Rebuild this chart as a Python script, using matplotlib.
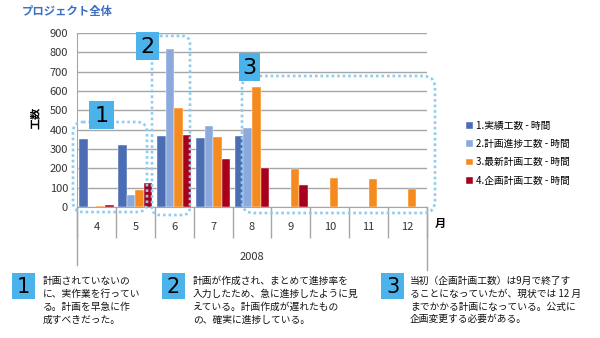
import numpy as np
import matplotlib.pyplot as plt
from matplotlib.patches import FancyBboxPatch, Rectangle

plt.rcParams['font.family'] = ['Noto Sans CJK JP', 'DejaVu Sans']

months = ['4', '5', '6', '7', '8', '9', '10', '11', '12']
actual = [350, 320, 365, 355, 365, 0, 0, 0, 0]
progress = [0, 60, 815, 420, 410, 0, 0, 0, 0]
latest_plan = [5, 90, 510, 360, 620, 195, 150, 145, 95]
orig_plan = [12, 125, 370, 250, 200, 115, 0, 0, 0]
series_names = ['1.実績工数 - 時間', '2.計画進捗工数 - 時間',
                '3.最新計画工数 - 時間', '4.企画計画工数 - 時間']
colors = ['#4A6DB3', '#8CA9DE', '#F58A1F', '#A8001C']

notes = [
    '計画されていないの\nに、実作業を行ってい\nる。計画を早急に作\n成すべきだった。',
    '計画が作成され、まとめて進捗率を\n入力したため、急に進捗したように見\nえている。計画作成が遅れたもの\nの、確実に進捗している。',
    '当初（企画計画工数）は9月で終了す\nることになっていたが、現状では 12 月\nまでかかる計画になっている。公式に\n企画変更する必要がある。',
]

box_blue = '#4BB3EA'
dot_blue = '#8DCDF0'
grid_gray = '#A6A6A6'

fig = plt.figure(figsize=(6, 3.38), dpi=100)
ax = fig.add_axes([77 / 600, 1 - 207 / 338, 350 / 600, 174 / 338])

x = np.arange(len(months))
w = 0.22
for k, vals in enumerate([actual, progress, latest_plan, orig_plan]):
    ax.bar(x + (k - 1.5) * w, vals, width=w, color=colors[k],
           edgecolor='white', linewidth=0.3, label=series_names[k], zorder=3)

ax.set_xlim(-0.5, len(months) - 0.5)
ax.set_ylim(0, 900)
ax.set_yticks(range(0, 901, 100))
ax.yaxis.grid(True, color=grid_gray, linewidth=1.0, zorder=0)
ax.tick_params(axis='y', length=0, pad=6.5, labelsize=8, labelcolor='#333333')
for s in ['top', 'right']:
    ax.spines[s].set_visible(False)
ax.spines['left'].set_color(grid_gray)
ax.spines['bottom'].set_color(grid_gray)

# category boundaries as long major ticks, month labels on minor ticks
ax.set_xticks(np.arange(-0.5, len(months), 1))
ax.set_xticklabels([])
ax.tick_params(axis='x', which='major', length=22, color=grid_gray, width=1.0)
ax.set_xticks(x, minor=True)
ax.set_xticklabels(months, minor=True)
ax.tick_params(axis='x', which='minor', length=0, pad=10.5, labelsize=8,
               labelcolor='#333333')

tr = ax.get_xaxis_transform()
ax.plot([-0.5, -0.5], [0, -58 / 174], transform=tr, color=grid_gray,
        linewidth=1.0, clip_on=False)
ax.plot([8.5, 8.5], [0, -63 / 174], transform=tr, color=grid_gray,
        linewidth=1.0, clip_on=False)
ax.text(0.5, -50 / 174, '2008', transform=ax.transAxes, ha='center',
        va='center', fontsize=8, color='#333333')

ax.legend(loc='upper left', bbox_to_anchor=(462 / 600, 1 - 117 / 338),
          bbox_transform=fig.transFigure, frameon=False, fontsize=7,
          handlelength=0.7, handleheight=0.7, handletextpad=0.3,
          labelspacing=0.85, borderaxespad=0)

fig.text(22 / 600, 1 - 11 / 338, 'プロジェクト全体', fontsize=8.2,
         fontweight='bold', color='#3B6FC4', va='center', ha='left')
fig.text(35 / 600, 1 - 118 / 338, '工数', rotation=90, fontsize=8,
         fontweight='bold', va='center', ha='center')
fig.text(440 / 600, 1 - 223 / 338, '月', fontsize=8, fontweight='bold',
         va='center', ha='center')

# overlay in pixel units for the callouts
ov = fig.add_axes([0, 0, 1, 1], zorder=5)
ov.set_xlim(0, 600)
ov.set_ylim(338, 0)
ov.axis('off')
ov.patch.set_alpha(0)

dotted = dict(fill=False, edgecolor=dot_blue, linewidth=1.9,
              linestyle=(0, (1, 1.1)))
for (x0, y0, x1, y1, r) in [(73, 122, 147, 212, 10),
                            (152, 36, 190, 215, 8),
                            (242, 76, 435, 213, 12)]:
    ov.add_patch(FancyBboxPatch((x0, y0), x1 - x0, y1 - y0,
                                boxstyle=f'round,pad=0,rounding_size={r}',
                                **dotted))


def num_box(x0, y0, x1, y1, label, size):
    ov.add_patch(Rectangle((x0, y0), x1 - x0, y1 - y0, facecolor=box_blue,
                           edgecolor='none'))
    ov.text((x0 + x1) / 2, (y0 + y1) / 2 + 1, label, ha='center', va='center',
            fontsize=size, color='black', family='DejaVu Sans')


num_box(89, 101, 114, 129, '1', 16)
num_box(136, 32, 159, 60, '2', 16)
num_box(239, 53, 260, 81, '3', 16)

for (bx, tx, label, note) in [(12, 43, '1', notes[0]),
                              (162, 193, '2', notes[1]),
                              (381, 410, '3', notes[2])]:
    num_box(bx, 273, bx + 23, 299, label, 15)
    ov.text(tx, 276, note, ha='left', va='top', fontsize=7,
            linespacing=1.35, color='#111111')

fig.savefig('out.png', dpi=100)
